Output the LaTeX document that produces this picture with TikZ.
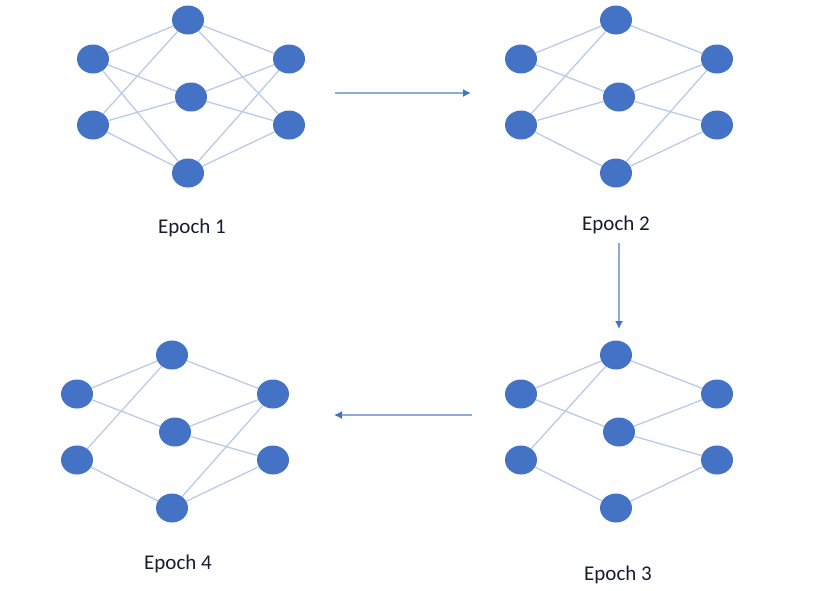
\documentclass[tikz,border=0pt]{standalone}
\usepackage{fontspec}
\setmainfont{Carlito}
\usetikzlibrary{shapes.geometric,arrows.meta}
\definecolor{nodeblue}{HTML}{4472C4}
\definecolor{edgeblue}{HTML}{B9CBE8}
\definecolor{arrowline}{HTML}{8FAADC}
\definecolor{labelcol}{HTML}{141E30}
\tikzset{
  neuron/.style={ellipse,fill=nodeblue,draw=none,minimum width=32pt,minimum height=29pt,inner sep=0pt},
  link/.style={draw=edgeblue,line width=1.3pt},
  flow/.style={draw=arrowline,line width=1.4pt,-{Latex[length=8pt,width=8pt,color=nodeblue]}},
  epochlabel/.style={anchor=base,text=labelcol,font=\fontsize{21}{25}\selectfont}
}
\newcommand\mynet[3]{%
  \begin{scope}[shift={(#2,#3)}]
    \node[neuron] (#1l1) at (93,59) {};
    \node[neuron] (#1l2) at (93,125) {};
    \node[neuron] (#1h1) at (188,20) {};
    \node[neuron] (#1h2) at (191,97) {};
    \node[neuron] (#1h3) at (188,173) {};
    \node[neuron] (#1r1) at (289,59) {};
    \node[neuron] (#1r2) at (289,125) {};
  \end{scope}}
\begin{document}
\begin{tikzpicture}[x=1pt,y=-1pt]
\useasboundingbox (0,0) rectangle (813,590);
% Epoch 1
\mynet{a}{0}{0}
\foreach \s/\t in {l1/h1,l1/h2,l1/h3,l2/h1,l2/h2,l2/h3,h1/r1,h1/r2,h2/r1,h2/r2,h3/r1,h3/r2}
  \draw[link] (a\s) -- (a\t);
% Epoch 2
\mynet{b}{428}{0}
\foreach \s/\t in {l1/h1,l1/h2,l2/h1,l2/h2,l2/h3,h1/r1,h2/r1,h2/r2,h3/r1,h3/r2}
  \draw[link] (b\s) -- (b\t);
% Epoch 3
\mynet{c}{428}{335}
\foreach \s/\t in {l1/h1,l1/h2,l2/h1,l2/h3,h1/r1,h2/r1,h2/r2,h3/r2}
  \draw[link] (c\s) -- (c\t);
% Epoch 4
\mynet{d}{-16}{335}
\foreach \s/\t in {l1/h1,l1/h2,l2/h1,l2/h3,h1/r1,h2/r1,h2/r2,h3/r1,h3/r2}
  \draw[link] (d\s) -- (d\t);
% labels
\node[epochlabel] (t1) at (192,233) {Epoch 1};
\node[epochlabel] (t2) at (616,230) {Epoch 2};
\node[epochlabel] (t3) at (618,580) {Epoch 3};
\node[epochlabel] (t4) at (178,569) {Epoch 4};
% arrows
\coordinate (p1) at (335,93);
\coordinate (q1) at (471,93);
\coordinate (p2) at (619,243);
\coordinate (q2) at (619,329);
\coordinate (p3) at (472,415);
\coordinate (q3) at (334,415);
\draw[flow] (p1) -- (q1);
\draw[flow] (p2) -- (q2);
\draw[flow] (p3) -- (q3);
\end{tikzpicture}
\end{document}
